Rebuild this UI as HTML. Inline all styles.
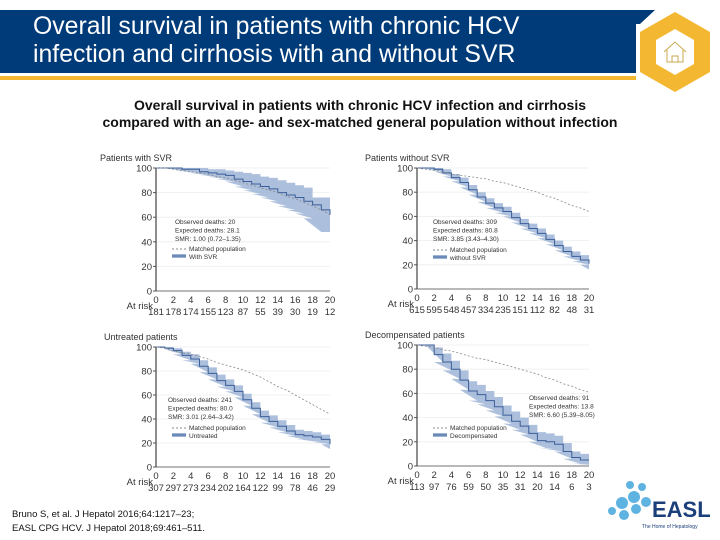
<!DOCTYPE html>
<html><head><meta charset="utf-8"><style>
body{margin:0;width:720px;height:540px;overflow:hidden;background:#fff;font-family:"Liberation Sans",sans-serif;position:relative}
#hdr{position:absolute;left:0;top:0}
.t{position:absolute;left:33px;top:13px;color:#fff;font-size:24.8px;line-height:28px}
.sub{position:absolute;left:0;width:720px;top:97px;text-align:center;font-weight:bold;font-size:14px;line-height:17px;color:#111}
.ref{position:absolute;left:12px;top:508px;font-size:9.5px;line-height:14px;color:#111}
</style></head><body>
<svg id="hdr" width="720" height="100">
<polygon points="0,10 655,10 640,24 636,24 636,73 0,73" fill="#003b79"/>
<rect x="0" y="76" width="636" height="4" fill="#f4b731"/>
<polygon points="675,12 710,32 710,72 675,92 640,72 640,32" fill="#f4b731"/>
<polygon points="675,29 694,40 694,64 675,75 656,64 656,40" fill="#fff"/>
<path d="M664,52 L675,42 L686,52 M667,50 V62 H683 V50 M672,62 V56 H678 V62" fill="none" stroke="#c9a84f" stroke-width="1"/>
</svg>
<div class="t">Overall survival in patients with chronic HCV<br>infection and cirrhosis with and without SVR</div>
<div class="sub">Overall survival in patients with chronic HCV infection and cirrhosis<br>compared with an age- and sex-matched general population without infection</div>
<svg id="charts" width="720" height="540" style="position:absolute;left:0;top:0"></svg>
<div class="ref">Bruno S, et al. J Hepatol 2016;64:1217–23;<br>EASL CPG HCV. J Hepatol 2018;69:461–511.</div>
<svg width="120" height="60" style="position:absolute;left:600px;top:475px">
<g fill="#5fb3e0"><circle cx="22" cy="28" r="6"/><circle cx="34" cy="22" r="6"/><circle cx="24" cy="40" r="5"/><circle cx="36" cy="34" r="5"/><circle cx="46" cy="27" r="5"/><circle cx="30" cy="10" r="4"/><circle cx="42" cy="12" r="4"/><circle cx="12" cy="36" r="4"/></g>
<text x="52" y="42" font-size="22" font-weight="bold" fill="#1b3f7a" font-family="Liberation Sans,sans-serif">EASL</text>
<text x="42" y="53" font-size="5" fill="#1b3f7a" font-family="Liberation Sans,sans-serif">The Home of Hepatology</text>
</svg>
<script>
const years=[0,1,2,3,4,5,6,7,8,9,10,11,12,13,14,15,16,17,18,19,20];
const yTicks=[0,20,40,60,80,100];
const xTicks=[0,2,4,6,8,10,12,14,16,18,20];
const svrObs=[100,100,100,99,99,97,96,95,94,91,89,87,85,83,80,78,76,73,70,66,62];
const svrLo=[100,100,98,97,96,94,93,91,89,85,82,79,76,73,69,66,63,59,48,48,48];
const svrHi=[100,100,100,100,100,100,99,99,98,97,96,95,93,92,90,88,86,84,76,76,76];
const svrMatch=[100,100,99,98,97,96,95,93,92,90,88,86,84,82,80,77,75,72,69,66,62];
const svrRisk=[181,178,174,155,123,87,55,39,30,19,12];
const nsvrObs=[100,100,99,96,92,88,82,76,71,67,64,59,54,50,46,41,36,31,27,24,21];
const nsvrLo=[100,99,97,93,89,84,78,72,67,63,60,55,50,46,42,37,32,27,23,20,16];
const nsvrHi=[100,100,100,99,95,92,86,80,75,71,68,63,58,54,50,45,40,35,31,28,26];
const nsvrMatch=[100,99,98,97,95,94,93,92,91,89,88,86,84,82,80,77,75,72,69,67,64];
const nsvrRisk=[615,595,548,457,334,235,151,112,82,48,31];
const untObs=[100,99,97,93,90,84,78,72,68,63,56,49,42,38,34,30,27,26,25,23,19];
const untLo=[100,98,94,89,86,79,73,67,63,58,51,44,37,33,29,26,23,22,21,19,15];
const untHi=[100,100,99,96,94,89,83,77,73,68,61,54,47,43,39,35,31,30,29,27,23];
const untMatch=[100,99,97,95,94,92,90,87,85,83,81,78,75,71,67,64,60,56,52,48,44];
const untRisk=[307,297,273,234,202,164,122,99,78,46,29];
const decObs=[100,100,92,86,80,71,62,59,54,49,42,37,33,27,21,20,18,12,7,5,5];
const decLo=[100,100,86,79,72,63,54,51,46,41,35,30,26,20,15,14,12,6,2,1,1];
const decHi=[100,100,98,93,87,79,70,67,62,57,50,45,40,34,28,27,25,19,12,10,10];
const decMatch=[100,99,98,96,95,93,91,89,88,86,84,82,80,78,76,73,71,68,66,63,61];
const decRisk=[113,97,76,59,50,35,31,20,14,6,3];

const NS='http://www.w3.org/2000/svg';
const root=document.getElementById('charts');
function mk(tag,attrs,parent){const e=document.createElementNS(NS,tag);for(const k in attrs)e.setAttribute(k,attrs[k]);(parent||root).appendChild(e);return e;}
function panel(cfg){
  const g=mk('g',{});
  
  
  const sx=v=>cfg.x0+(cfg.x1-cfg.x0)*v/20, sy=v=>cfg.y0-(cfg.y0-cfg.y1)*v/100;
  const tt=mk('text',{x:cfg.tx,y:cfg.y1-7,'font-size':9,fill:'#333'},g);tt.textContent=cfg.title;
  
  
  yTicks.forEach(v=>{
    if(v>0)mk('line',{x1:cfg.x0,x2:cfg.x1,y1:sy(v),y2:sy(v),stroke:'#eee','stroke-width':0.8},g);
    mk('line',{x1:cfg.x0-3,x2:cfg.x0,y1:sy(v),y2:sy(v),stroke:'#555'},g);
    const t=mk('text',{x:cfg.x0-4,y:sy(v)+3.5,'font-size':9.5,'text-anchor':'end',fill:'#333'},g);t.textContent=v;
  });
  let up='',lo=[];
  for(let i=cfg.start;i<years.length;i++){
    const xa=sx(years[i]),xb=sx(i<years.length-1?years[i+1]:20);
    up+=xa+','+sy(cfg.hi[i])+' '+xb+','+sy(cfg.hi[i])+' ';
    lo.unshift(xa+','+sy(cfg.lo[i])+' '+xb+','+sy(cfg.lo[i]));
  }
  const band=mk('polygon',{points:up+lo.join(' '),fill:'#9db4d6',opacity:0.85},g);
  
  
  let d='M'+sx(0)+','+sy(100);
  for(let i=cfg.start;i<years.length;i++){d+=' L'+sx(years[i])+','+sy(cfg.obs[i]);if(i<years.length-1)d+=' L'+sx(years[i+1])+','+sy(cfg.obs[i]);}
  const ln=mk('path',{d:d,fill:'none',stroke:'#3b5f98','stroke-width':1},g);
  
  
  const md=years.map((y,i)=>(i?'L':'M')+sx(y)+','+sy(cfg.match[i])).join(' ');
  const ml=mk('path',{d:md,fill:'none',stroke:'#888','stroke-width':0.8,'stroke-dasharray':'2,2'},g);
  
  
  mk('line',{x1:cfg.x0,x2:cfg.x0,y1:cfg.y1,y2:cfg.y0,stroke:'#444','stroke-width':1.2},g);
  mk('line',{x1:cfg.x0,x2:cfg.x1,y1:cfg.y0,y2:cfg.y0,stroke:'#444','stroke-width':0.8},g);
  xTicks.forEach((v,i)=>{
    const t=mk('text',{x:sx(v),y:cfg.y0+12,'font-size':9.5,'text-anchor':'middle',fill:'#333'},g);t.textContent=v;
    const r=mk('text',{x:sx(v),y:cfg.y0+24,'font-size':9.5,'text-anchor':'middle',fill:'#333'},g);r.textContent=cfg.risk[i];
  });
  const ar=mk('text',{x:cfg.x0-3,y:cfg.y0+18,'font-size':9.5,'text-anchor':'end',fill:'#333'},g);ar.textContent='At risk';
  cfg.stats.forEach((s,i)=>{const t=mk('text',{x:cfg.sx,y:cfg.sy+i*8.5,'font-size':6.5,fill:'#333'},g);t.textContent=s;});
  const ly=cfg.ly;
  mk('line',{x1:cfg.lx,x2:cfg.lx+14,y1:ly,y2:ly,stroke:'#888','stroke-dasharray':'2,2'},g);
  mk('rect',{x:cfg.lx,y:ly+5,width:14,height:4,fill:'#9db4d6'},g);
  mk('line',{x1:cfg.lx,x2:cfg.lx+14,y1:ly+7,y2:ly+7,stroke:'#3b5f98'},g);
  const l1=mk('text',{x:cfg.lx+17,y:ly+2,'font-size':6.5,fill:'#333'},g);l1.textContent='Matched population';
  const l2=mk('text',{x:cfg.lx+17,y:ly+10,'font-size':6.5,fill:'#333'},g);l2.textContent=cfg.leg;
}
panel({name:'panel-with-svr',title:'Patients with SVR',x0:156,x1:330,y0:291,y1:168,tx:100,start:0,obs:svrObs,lo:svrLo,hi:svrHi,match:svrMatch,risk:svrRisk,stats:['Observed deaths: 20','Expected deaths: 28.1','SMR: 1.00 (0.72–1.35)'],sx:175,sy:224,lx:172,ly:249,leg:'With SVR'});
panel({name:'panel-without-svr',title:'Patients without SVR',x0:417,x1:589,y0:289,y1:168,tx:365,start:0,obs:nsvrObs,lo:nsvrLo,hi:nsvrHi,match:nsvrMatch,risk:nsvrRisk,stats:['Observed deaths: 309','Expected deaths: 80.8','SMR: 3.85 (3.43–4.30)'],sx:433,sy:224,lx:433,ly:250,leg:'without SVR'});
panel({name:'panel-untreated',title:'Untreated patients',x0:156,x1:330,y0:467,y1:347,tx:104,start:0,obs:untObs,lo:untLo,hi:untHi,match:untMatch,risk:untRisk,stats:['Observed deaths: 241','Expected deaths: 80.0','SMR: 3.01 (2.64–3.42)'],sx:168,sy:402,lx:172,ly:428,leg:'Untreated'});
panel({name:'panel-decompensated',title:'Decompensated patients',x0:417,x1:589,y0:466,y1:345,tx:365,start:1,obs:decObs,lo:decLo,hi:decHi,match:decMatch,risk:decRisk,stats:['Observed deaths: 91','Expected deaths: 13.8','SMR: 6.60 (5.39–8.05)'],sx:529,sy:400,lx:433,ly:428,leg:'Decompensated'});
</script>
</body></html>
